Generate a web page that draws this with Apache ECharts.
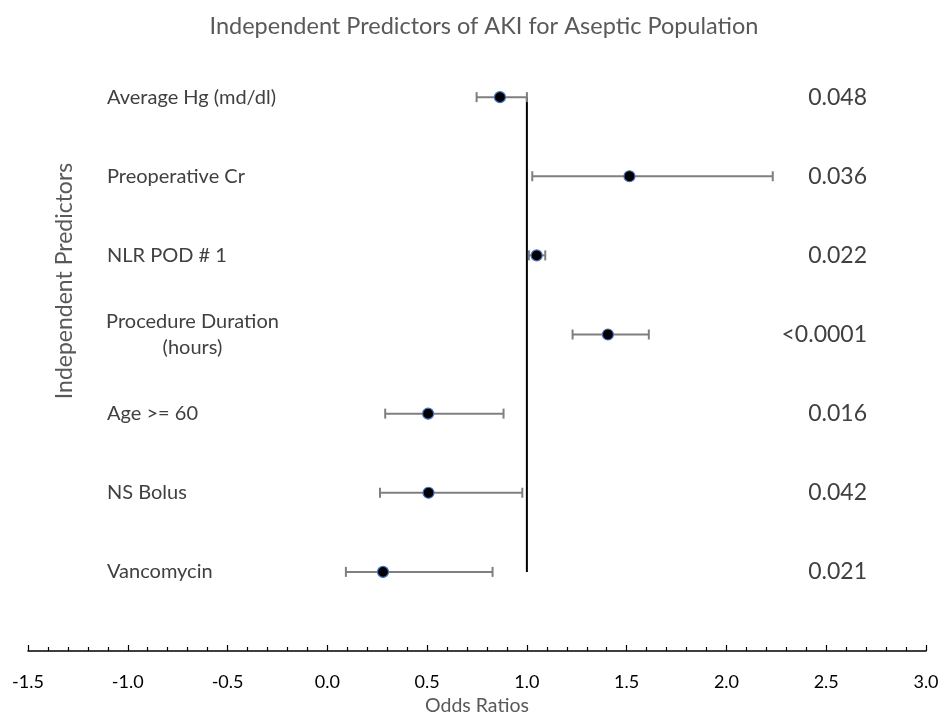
<!DOCTYPE html>
<html>
<head>
<meta charset="utf-8">
<script src="https://cdn.jsdelivr.net/npm/echarts@6/dist/echarts.min.js"></script>
<style>html,body{margin:0;padding:0;background:#fff;overflow:hidden}#c{width:944px;height:721px}</style>
</head>
<body>
<div id="c"></div>
<script>
var predictors = ['Average Hg (md/dl)', 'Preoperative Cr', 'NLR POD # 1', 'Procedure Duration\n(hours)', 'Age >= 60', 'NS Bolus', 'Vancomycin'];
var rowPos = [7, 6, 5, 4, 3, 2, 1];
var oddsRatio = [0.865, 1.514, 1.049, 1.406, 0.505, 0.507, 0.279];
var ciLow = [0.748, 1.027, 1.010, 1.229, 0.290, 0.264, 0.093];
var ciHigh = [1.000, 2.232, 1.092, 1.611, 0.883, 0.977, 0.828];
var pValues = ['0.048', '0.036', '0.022', '<0.0001', '0.016', '0.042', '0.021'];
var refLine = [[1, 7], [1, 1]];
var xTicks = [-1.5, -1.0, -0.5, 0.0, 0.5, 1.0, 1.5, 2.0, 2.5, 3.0];

var FONT = 'Lato, "Open Sans", sans-serif';
var LABEL_X_PX = 107;
var PVAL_X_PX = 867;

var chart = echarts.init(document.getElementById('c'), null, {renderer: 'canvas'});

var pointData = oddsRatio.map(function (v, i) { return [v, rowPos[i]]; });
var errData = rowPos.map(function (r, i) { return [ciLow[i], ciHigh[i], r]; });
var textData = rowPos.map(function (r, i) { return [r, i]; });

chart.setOption({
  animation: false,
  backgroundColor: '#fff',
  title: {
    text: 'Independent Predictors of AKI for Aseptic Population',
    left: 479, top: 9, textAlign: 'center',
    textStyle: {fontFamily: FONT, fontSize: 23.5, fontWeight: 'normal', color: '#595959'}
  },
  grid: {left: 28, right: 18, top: 18, bottom: 65, containLabel: false},
  xAxis: {
    type: 'value', min: -1.5, max: 3.0, interval: 0.5,
    name: 'Odds Ratios', nameLocation: 'middle', nameGap: 45,
    nameTextStyle: {fontFamily: FONT, fontSize: 19.5, color: '#595959'},
    axisLine: {onZero: false, lineStyle: {color: '#000', width: 1.5}},
    axisTick: {show: true, inside: true, length: 6, lineStyle: {color: '#000', width: 1.2}},
    minorTick: {show: true, splitNumber: 5, length: 4, lineStyle: {color: '#000', width: 1.2}},
    axisLabel: {
      margin: 22, fontFamily: FONT, fontSize: 18, color: '#000',
      formatter: function (v) {
        var t = xTicks.filter(function (k) { return Math.abs(k - v) < 1e-9; });
        return t.length ? t[0].toFixed(1) : '';
      }
    },
    splitLine: {show: false}
  },
  yAxis: {
    type: 'value', min: 0, max: 8, show: false
  },
  graphic: [{
    type: 'text', x: 65, y: 281, rotation: Math.PI / 2,
    style: {text: 'Independent Predictors', fontFamily: FONT, fontSize: 23, fill: '#595959',
      align: 'center', verticalAlign: 'middle'}
  }],
  series: [
    {
      type: 'line', data: refLine, symbol: 'none',
      lineStyle: {color: '#000', width: 2}, z: 1
    },
    {
      type: 'custom', z: 2,
      data: errData,
      renderItem: function (params, api) {
        var lo = api.coord([api.value(0), api.value(2)]);
        var hi = api.coord([api.value(1), api.value(2)]);
        var h = 5;
        var st = {stroke: '#7f7f7f', lineWidth: 2};
        return {type: 'group', children: [
          {type: 'line', shape: {x1: lo[0], y1: lo[1], x2: hi[0], y2: hi[1]}, style: st},
          {type: 'line', shape: {x1: lo[0], y1: lo[1] - h, x2: lo[0], y2: lo[1] + h}, style: st},
          {type: 'line', shape: {x1: hi[0], y1: hi[1] - h, x2: hi[0], y2: hi[1] + h}, style: st}
        ]};
      }
    },
    {
      type: 'scatter', z: 3, data: pointData, symbol: 'circle', symbolSize: 11,
      itemStyle: {color: '#000', borderColor: '#4472C4', borderWidth: 1.2, opacity: 1}
    },
    {
      type: 'custom', z: 4,
      data: textData,
      renderItem: function (params, api) {
        var p = api.coord([0, api.value(0)]);
        var i = api.value(1);
        var name = predictors[i];
        var multi = name.indexOf('\n') >= 0;
        return {type: 'group', children: [
          {type: 'text', x: multi ? LABEL_X_PX + 85.5 : LABEL_X_PX, y: p[1],
            style: {text: name, fontFamily: FONT, fontSize: 20, fill: '#404040',
              align: multi ? 'center' : 'left', verticalAlign: 'middle', lineHeight: 26}},
          {type: 'text', x: PVAL_X_PX, y: p[1],
            style: {text: pValues[i], fontFamily: FONT, fontSize: 23, fill: '#404040',
              align: 'right', verticalAlign: 'middle'}}
        ]};
      }
    }
  ]
});
</script>
</body>
</html>
